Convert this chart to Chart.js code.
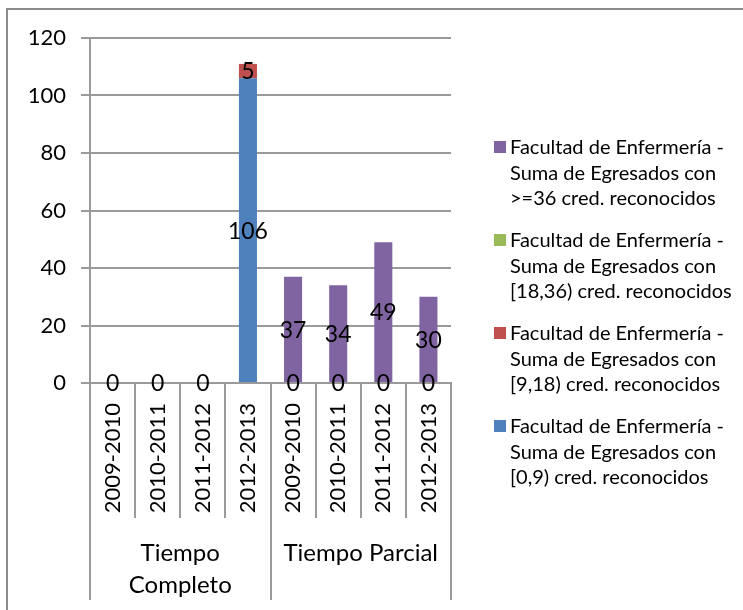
<!DOCTYPE html>
<html>
<head>
<meta charset="utf-8">
<script src="https://cdn.jsdelivr.net/npm/chart.js@4/dist/chart.umd.min.js"></script>
<style>
    html, body { margin: 0; padding: 0; background: #ffffff; }
    #wrap { width: 743px; height: 610px; }
</style>
</head>
<body>
<div id="wrap"><canvas id="grafico" width="743" height="610"></canvas></div>
<script>
// datos del grafico de egresados

var periodos = ['2009-2010', '2010-2011', '2011-2012', '2012-2013',
                '2009-2010', '2010-2011', '2011-2012', '2012-2013'];
var grupos = [['Tiempo', 'Completo'], ['Tiempo Parcial']];
var columnasPorGrupo = 4;

var creditos0a9 = [0, 0, 0, 106, 0, 0, 0, 0];
var creditos9a18 = [null, null, null, 5, null, null, null, null];
var creditos18a36 = [null, null, null, null, null, null, null, null];
var creditos36mas = [null, null, null, null, 37, 34, 49, 30];

var nombresSeries = [
    ['Facultad de Enfermería -', 'Suma de Egresados con', '[0,9) cred. reconocidos'],
    ['Facultad de Enfermería -', 'Suma de Egresados con', '[9,18) cred. reconocidos'],
    ['Facultad de Enfermería -', 'Suma de Egresados con', '[18,36) cred. reconocidos'],
    ['Facultad de Enfermería -', 'Suma de Egresados con', '>=36 cred. reconocidos']
];
var coloresSeries = ['#4F81BD', '#C0504D', '#9BBB59', '#8064A2'];

var ticksY = [0, 20, 40, 60, 80, 100, 120];

var fuente = 'Lato, "Liberation Sans", sans-serif';
var colorLinea = '#9a9a9a';

// Plugin: borde exterior, etiquetas de datos, separadores del eje x y leyenda
var pluginExtras = {
    id: 'extras',
    beforeDraw: function (chart) {
        var ctx = chart.ctx;
        ctx.save();
        ctx.fillStyle = '#ffffff';
        ctx.fillRect(0, 0, chart.width, chart.height);
        ctx.strokeStyle = '#8c8c8c';
        ctx.lineWidth = 2;
        ctx.strokeRect(7, 9, chart.width + 20, chart.height + 20);
        ctx.restore();
    },
    afterDatasetsDraw: function (chart) {
        var ctx = chart.ctx;
        ctx.save();
        ctx.font = '23px ' + fuente;
        ctx.fillStyle = '#000000';
        ctx.textAlign = 'center';
        ctx.textBaseline = 'middle';
        chart.data.datasets.forEach(function (ds, i) {
            var meta = chart.getDatasetMeta(i);
            meta.data.forEach(function (bar, j) {
                if (ds.data[j] === null) return;
                var y = (bar.y + bar.base) / 2;
                ctx.fillText(String(ds.data[j]), bar.x, y + 1);
            });
        });
        ctx.restore();
    },
    afterDraw: function (chart) {
        var ctx = chart.ctx;
        var x = chart.scales.x;
        var area = chart.chartArea;
        var paso = x.getPixelForValue(1) - x.getPixelForValue(0);

        ctx.save();
        ctx.strokeStyle = colorLinea;
        ctx.lineWidth = 2;

        // separadores entre columnas y entre grupos
        for (var i = 0; i <= periodos.length; i++) {
            var px = Math.round(x.getPixelForValue(0) - paso / 2 + i * paso);
            var fin = (i % columnasPorGrupo === 0) ? 600 : 518;
            ctx.beginPath();
            ctx.moveTo(px, area.bottom);
            ctx.lineTo(px, fin);
            ctx.stroke();
        }

        // etiquetas de grupo (segundo nivel)
        ctx.font = '24px ' + fuente;
        ctx.fillStyle = '#000000';
        ctx.textAlign = 'center';
        ctx.textBaseline = 'middle';
        grupos.forEach(function (lineas, g) {
            var centro = (x.getPixelForValue(g * columnasPorGrupo) +
                          x.getPixelForValue(g * columnasPorGrupo + columnasPorGrupo - 1)) / 2;
            lineas.forEach(function (t, k) {
                ctx.fillText(t, centro, 553 + k * 32);
            });
        });

        // leyenda (orden inverso, como en Excel)
        ctx.font = '20px ' + fuente;
        ctx.textAlign = 'left';
        var yItem = 148;
        for (var s = chart.data.datasets.length - 1; s >= 0; s--) {
            var ds = chart.data.datasets[s];
            ctx.fillStyle = ds.backgroundColor;
            ctx.fillRect(494, yItem - 7, 12, 12);
            ctx.fillStyle = '#000000';
            ds.label.forEach(function (t, k) {
                ctx.fillText(t, 510, yItem + k * 25.5);
            });
            yItem += 93;
        }
        ctx.restore();
    }
};

var datasets = [creditos0a9, creditos9a18, creditos18a36, creditos36mas].map(function (valores, i) {
    return {
        label: nombresSeries[i],
        data: valores,
        backgroundColor: coloresSeries[i],
        borderWidth: 0,
        categoryPercentage: 1.0,
        barPercentage: 0.4
    };
});

var ctxGrafico = document.getElementById('grafico').getContext('2d');

var grafico = new Chart(ctxGrafico, {
    type: 'bar',
    data: {
        labels: periodos,
        datasets: datasets
    },
    options: {
        responsive: false,
        animation: false,
        layout: {
            padding: { left: 0, top: 38, right: 292, bottom: 0 }
        },
        scales: {
            x: {
                stacked: true,
                grid: { display: false, drawTicks: false },
                border: { display: true, color: colorLinea, width: 2 },
                ticks: {
                    autoSkip: false,
                    minRotation: 90,
                    maxRotation: 90,
                    padding: 20,
                    color: '#000000',
                    font: { family: fuente, size: 22 }
                },
                afterFit: function (scale) {
                    scale.height = 227;
                }
            },
            y: {
                stacked: true,
                min: 0,
                max: 120,
                afterBuildTicks: function (scale) {
                    scale.ticks = ticksY.map(function (v) { return { value: v }; });
                },
                grid: {
                    color: colorLinea,
                    lineWidth: 2,
                    tickLength: 9
                },
                border: { display: true, color: colorLinea, width: 2 },
                ticks: {
                    padding: 15,
                    color: '#000000',
                    font: { family: fuente, size: 22 }
                },
                afterFit: function (scale) {
                    scale.width = 90;
                }
            }
        },
        plugins: {
            legend: { display: false },
            tooltip: { enabled: false }
        }
    },
    plugins: [pluginExtras]
});
</script>
</body>
</html>
